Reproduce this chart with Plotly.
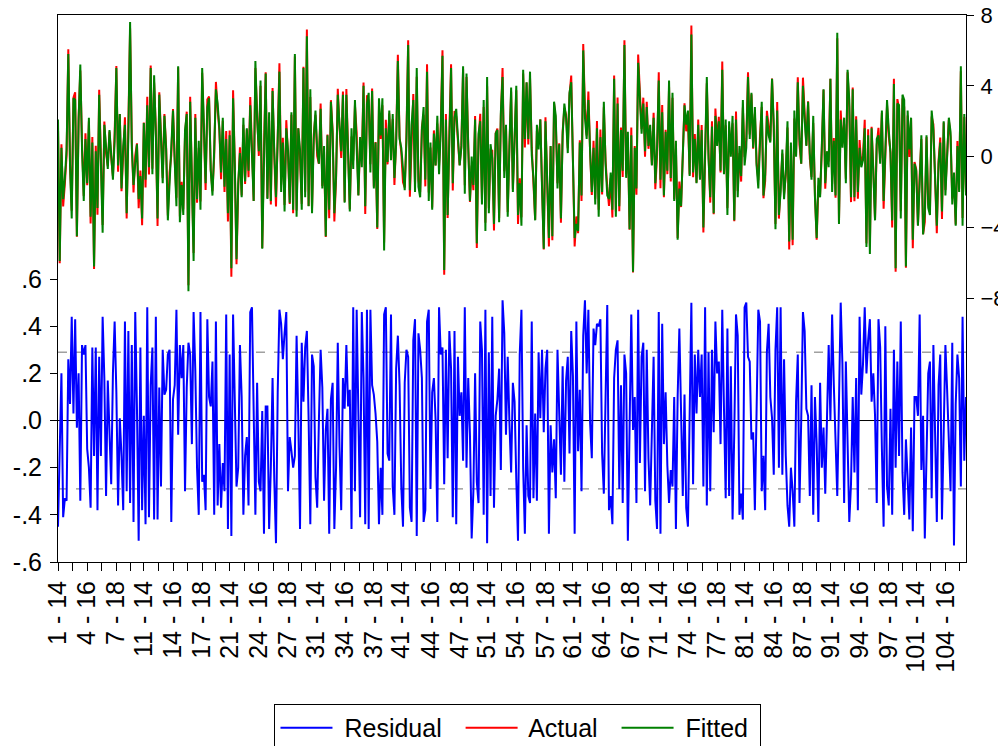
import plotly.graph_objects as go

# ---------------- data ----------------
cross_sections = list(range(1, 107))          # 106 cross-sections
periods = [14, 15, 16, 17, 18]                # 5 periods each

fitted = [
    2.1, -5.9, 0.5, -2.4, -1.2, 0.4, 5.8, -0.5, -3.5, 3.3,
    3.2, -4.5, 2.0, 5.2, 0.4, -2.5, 1.0, -1.5, 2.2, -3.4,
    0.8, -6.2, 0.3, -2.9, 3.5, -0.8, -4.3, 1.8, 0.5, -0.7,
    1.5, 0.2, -1.3, 0.9, 5.0, -0.5, 2.4, -1.8, 0.6, 1.8,
    -3.2, 1.2, 7.6, 0.5, -1.6, -0.4, 0.7, -2.4, -1.1, -3.5,
    1.9, -1.3, 2.9, -0.6, 5.0, -1.0, 4.6, 1.2, -3.5, 3.5,
    0.9, -1.5, 2.3, 0.4, -3.6, -1.2, 0.5, 2.6, -0.3, -2.8,
    5.1, -3.7, -1.6, -3.3, 1.5, 2.4, -7.6, 3.1, -1.2, -5.9,
    2.2, -2.4, 0.9, -3.0, 5.0, 1.8, -1.5, 2.8, 3.3, -0.8,
    -2.2, 0.4, 3.8, 3.0, 1.6, -0.9, 2.2, -1.7, 1.0, -3.2,
    1.2, -6.3, 3.3, -0.5, -5.8, -1.5, 0.2, -2.3, 2.2, -1.4,
    1.6, -0.8, 2.9, 0.1, -2.5, 5.4, 2.1, 0.3, 4.3, -5.2,
    1.0, 4.7, -2.4, 2.5, -2.5, 3.7, 0.3, -2.3, 1.0, 4.8,
    -2.0, 0.8, -3.1, 1.6,
    0.4, -2.6, 2.5, -3.0, 5.8, -3.4, 1.6, 0.4, -3.0, 5.0, -2.3, 6.8, -2.8, 3.8, -3.2,
    1.0, 2.6, 0.4, -0.4, 2.7, -1.8, 0.6, -4.5, 1.2, -3.0, 3.1, 1.3, -3.2, -1.1, 3.5,
    1.8, 0.3, 3.5, -2.6, 3.5, 0.3, -3.1, 1.6, -0.7, 3.2, 0.9, -2.2, 1.1, -0.6,
    4.0, -2.8, 3.0, 3.6, -0.9, 3.7, -1.8, 0.8, -4.0, 3.3, 1.2, 3.3, -5.3, 1.6, -0.3,
    2.6, -0.2, 2.4, -1.2, 0.7, 5.4, 1.0, 0.5, -1.0, -1.9, 0.9, 6.3, -1.9, 1.8, 3.2,
    -2.0, 5.0, -1.7, -2.3, 1.5, 2.8, -1.3, 4.8, -2.5, 0.8, -3.0, 1.3, -0.5, 2.3, -1.0,
    1.5, 5.7, -6.4, 2.1, -3.3, 1.0, 5.0, -1.5, 2.2, 2.7, 0.8, -0.5, 0.5, 5.1, -2.1,
    4.7, 0.5, -2.5, 0.0, -1.6, 2.1, -4.9, 1.3, 2.0, -2.7, 3.2, -4.2, 4.5, -3.2, 0.7,
    -0.1, -3.8, 1.3, 1.5, -3.7, 2.5, 4.5, -1.2, 1.8, -3.4, 0.6, 3.9, -2.0, 1.0,
    4.0, -3.3, -1.5, -3.9, 4.9, 1.0, 4.2, 1.0, 4.8, 0.1, -1.2, -3.6, 1.8, 0.4, 2.1,
    -1.8, -5.2, 2.0, -1.5, -4.6, 0.6, -4.5, 3.1, 2.3, -1.8, 0.7, -3.5, 1.2, 3.0, 2.2,
    0.2, 3.6, 4.2, -1.0, -4.6, -3.8, -4.2, 0.8, -2.2, 6.0, 2.2, 1.0, 3.2, 0.3, -2.0,
    0.5, -2.7, 1.6, -3.4, 1.1, -2.0, 3.1, -0.4, -2.2, -2.4,
    -0.9, -3.0, 4.4, -3.4, 3.0, -2.8, 1.5, -0.8, 6.3, -1.2,
    1.4, -4.1, 1.2, -6.5, 0.5, -1.8, 5.3, 3.6, 1.3, 3.0,
    0.3, 2.8, 0.6, 1.8, -0.5, 2.2, -1.5, 0.5, 4.3, -1.3,
    2.5, -2.2, 1.4, -0.8,
    4.3, -1.2, 3.6, -2.5, 0.9, -4.7, -1.8, -2.8, 0.5, 2.9,
    1.8, 2.6, -1.1, 6.9, -0.9, 1.0, -1.5, 1.8, -1.3, 1.5,
    -4.0, 0.3, 4.5, -0.1, -2.3, 1.7, -3.2, 2.3, 0.6, 2.0,
    -0.8, 4.9, -1.0, 2.1, -3.3, 2.0, 0.0, 2.3, -3.6, 2.1,
    -2.3, 0.6, -1.1, 3.2, -0.5,
    0.5, 4.5, 1.0, 3.6, 0.5, 2.8, -0.5, -1.8, 0.8, 3.1,
    -2.2, -1.0, 2.3, 1.2, 0.8, 4.4, 1.8, -4.1, 2.6, -3.3,
    -2.0, 0.4, -2.4, -0.9, 2.0, -4.8, 0.8, -4.7, 2.6, 0.0,
    4.2, 1.0, -0.4, 4.0, 2.1, 0.6, 3.1, 0.2, -1.3, 2.3,
    -2.3, -4.6, -1.2, -2.3,
    0.6, 3.8, -1.5, 0.3, -0.6, 4.4, -2.0, 0.9, -2.2, 7.0,
    -3.8, 2.1, 0.5, 2.2, -1.5, 4.9, 3.2, -2.3, 3.8, -2.3,
    2.1, -2.0, 0.5, -0.6, -0.2, 1.6, -5.1, 1.2, -5.5, 1.6,
    -0.9, -3.6, 1.0, 1.2, -0.4, 2.6, -2.5, 0.0, 3.2, 1.5,
    0.2, -3.6, 4.1, -6.3, 3.0,
    2.9, -3.5, 3.5, 3.2, -6.2, 2.6, 0.4, 2.2, -4.7, -0.4,
    -0.8, -3.9, -1.5, 1.2, -4.4, -3.2, 1.2, -2.9, -3.3, 2.6,
    1.5, -1.3, -3.9, -0.4, 0.8, -3.1, 2.0, -2.2, -0.1, 2.2,
    1.4, -2.7, -0.9, -3.9, 0.6, -2.0, 5.1, -3.9, 2.4, -2.2,
]

residual = [
    -0.45, -0.12, 0.20, -0.41, -0.33, -0.34, 0.26, 0.07, 0.44, 0.03,
    0.43, -0.03, 0.20, -0.34, 0.32, 0.28, 0.32, -0.12, -0.20, -0.37,
    0.31, -0.15, 0.31, -0.38, 0.27, -0.15, 0.44, 0.18, -0.32, 0.17,
    -0.09, -0.27, 0.20, 0.42, 0.12, -0.36, 0.01, -0.15, -0.38, 0.42,
    -0.30, 0.38, -0.35, 0.32, -0.43, 0.46, 0.05, -0.51, 0.31, -0.38,
    0.02, -0.44, 0.48, -0.41, 0.15, 0.31, -0.42, 0.44, -0.42, 0.14,
    -0.28, 0.30, 0.11, 0.13, 0.28, 0.30, -0.43, 0.09, 0.15, 0.47,
    -0.06, 0.32, 0.18, 0.32, -0.30, 0.14, 0.33, 0.28, -0.10, 0.46,
    0.21, -0.20, -0.40, 0.46, -0.26, -0.23, -0.38, 0.43, 0.10, 0.06,
    0.25, -0.40, 0.42, -0.36, -0.10, -0.37, -0.18, -0.30, 0.45, -0.46,
    0.28, -0.49, 0.45, 0.15, -0.28, -0.20, 0.32, 0.10, -0.40, -0.15,
    -0.07, -0.36, 0.46, 0.48, 0.00, -0.40, 0.16, -0.26, -0.30, 0.04,
    -0.48, 0.06, 0.06, -0.46, -0.20, 0.18, -0.25, -0.52, 0.12, 0.47,
    0.41, 0.26, 0.37, 0.46, -0.30, -0.07, -0.13, -0.20, -0.15, 0.36,
    0.00, -0.46, 0.33, 0.08, 0.31, 0.38, 0.01, -0.44, 0.28, 0.23,
    -0.24, -0.37, 0.00, 0.30, 0.14, -0.34, -0.04, 0.05, -0.48, 0.09,
    0.16, -0.46, -0.20, 0.33, -0.11, -0.38, 0.18, 0.05, 0.32, 0.06,
    0.13, -0.46, 0.48, -0.30, 0.47, 0.02, -0.41, 0.46, 0.18, -0.44,
    0.47, -0.46, 0.47, 0.15, 0.11, 0.03, -0.09, -0.44, -0.20, -0.40,
    0.45, 0.48, -0.14, -0.17, 0.45, -0.28, -0.40, 0.22, 0.36, 0.15,
    -0.28, -0.45, 0.16, 0.30, 0.27, -0.37, -0.43, 0.34, 0.43, -0.49,
    0.37, 0.30, 0.18, -0.43, -0.38, 0.42, 0.47, -0.29, 0.12, 0.18,
    0.00, -0.43, 0.48, 0.28, 0.31, -0.27, 0.30, -0.16, 0.38, 0.22,
    -0.41, 0.38, -0.44, 0.27, 0.02, 0.12, -0.17, 0.48, -0.20, 0.18,
    -0.06, -0.50, -0.30, 0.20, -0.26, -0.35, 0.42, 0.30, -0.40, 0.47,
    -0.52, 0.29, -0.32, 0.44, -0.37, 0.02, 0.09, 0.22, -0.21, 0.51,
    0.37, -0.06, 0.27, -0.01, -0.22, 0.16, 0.08, -0.25, -0.51, 0.28,
    0.47, -0.20, -0.48, -0.02, -0.32, -0.35, 0.42, -0.33, 0.03, -0.34,
    0.29, 0.01, 0.30, -0.05, 0.22, 0.30, -0.48, -0.02, -0.22, -0.08,
    -0.33, 0.30, 0.05, -0.23, 0.23, -0.26, 0.17, 0.27, -0.14, 0.38,
    0.19, -0.48, 0.42, -0.13, 0.13, -0.30, 0.36, 0.51, 0.20, 0.47,
    -0.01, -0.16, 0.39, 0.32, 0.41, 0.40, 0.43, -0.14, -0.31, 0.18,
    0.49, -0.38, -0.32, -0.44, 0.18, 0.30, 0.34, -0.29, 0.15, -0.35,
    0.28, 0.20, -0.51, -0.03, 0.45, -0.04, 0.10, -0.35, 0.47, -0.18,
    0.27, 0.33, -0.30, 0.30, -0.16, -0.36, 0.04, 0.27, -0.34, -0.46,
    0.46, -0.48, 0.41, -0.10, 0.12, -0.19, -0.35, -0.21, -0.28, 0.10,
    -0.46, 0.10, 0.39, -0.05, -0.32, 0.11, -0.37, -0.45, 0.09, 0.50,
    -0.27, 0.28, 0.03, 0.30, 0.10, 0.28, -0.28, 0.48, -0.36, 0.29,
    -0.30, 0.30, -0.05, 0.42, 0.20, 0.25, -0.10, 0.47, 0.05, -0.33,
    0.39, -0.32, 0.23, -0.42, -0.05, 0.45, 0.36, -0.40, -0.31, -0.42,
    0.48, 0.50, 0.27, 0.25, -0.08, -0.05, -0.38, 0.15, 0.47, 0.42,
    -0.30, -0.15, -0.38, 0.29, 0.41, 0.10, 0.01, -0.23, 0.30, 0.48,
    -0.20, 0.48, -0.23, 0.26, -0.15, -0.36, -0.45, -0.20, -0.30, -0.45,
    0.08, 0.28, -0.35, 0.00, 0.46, 0.38, 0.05, 0.02, -0.32, 0.15,
    -0.40, 0.10, -0.10, -0.43, 0.16, -0.20, -0.03, -0.31, -0.02, 0.32,
    0.00, 0.45, 0.15, -0.12, -0.32, 0.08, 0.50, 0.24, -0.35, 0.25,
    -0.13, -0.43, -0.27, 0.10, -0.22, 0.18, -0.38, 0.44, 0.11, 0.24,
    0.48, 0.20, 0.34, 0.43, 0.08, 0.20, 0.02, -0.35, 0.43, 0.31,
    -0.12, -0.45, 0.40, -0.28, -0.36, 0.05, -0.40, 0.30, -0.20, 0.25,
    -0.15, 0.42, -0.22, -0.40, -0.08, -0.28, -0.42, -0.03, -0.47, 0.10,
    0.10, 0.02, 0.45, -0.21, 0.02, -0.50, -0.10, 0.20, 0.25, -0.33,
    0.32, -0.12, -0.43, 0.15, 0.28, -0.42, -0.07, 0.32, 0.13, -0.14,
    -0.30, 0.33, -0.53, 0.07, 0.28, 0.18, -0.28, 0.44, -0.17, 0.10,
]

# Actual = Fitted + Residual (definition of the residual)
actual = [f + r for f, r in zip(fitted, residual)]

tick_labels = [
    "1 - 14", "4 - 16", "7 - 18", "11 - 14", "14 - 16", "17 - 18",
    "21 - 14", "24 - 16", "27 - 18", "31 - 14", "34 - 16", "37 - 18",
    "41 - 14", "44 - 16", "47 - 18", "51 - 14", "54 - 16", "57 - 18",
    "61 - 14", "64 - 16", "67 - 18", "71 - 14", "74 - 16", "77 - 18",
    "81 - 14", "84 - 16", "87 - 18", "91 - 14", "94 - 16", "97 - 18",
    "101 - 14", "104 - 16",
]

left_ticks = [-0.6, -0.4, -0.2, 0.0, 0.2, 0.4, 0.6]
left_labels = ["-.6", "-.4", "-.2", ".0", ".2", ".4", ".6"]
right_ticks = [-8, -4, 0, 4, 8]
resid_se = 0.29   # +/- 1 S.E. band of the residuals

# ---------------- build ----------------
n = len(fitted)
assert n == len(residual) == len(cross_sections) * len(periods), (n, len(residual))
x = list(range(n))


def obs_index(label):
    cs, p = [int(s) for s in label.split(" - ")]
    return (cs - 1) * len(periods) + periods.index(p)


label_pos = [obs_index(t) for t in tick_labels]
tickvals, ticktext = [], []
for i, pos in enumerate(label_pos):
    tickvals.append(pos)
    ticktext.append(tick_labels[i])
    nxt = label_pos[i + 1] if i + 1 < len(label_pos) else pos + (pos - label_pos[i - 1])
    mid = (pos + nxt) / 2
    if mid <= n - 1:
        tickvals.append(mid)
        ticktext.append("")

FONT = "Liberation Sans, Arial, sans-serif"
FS = 25

fig = go.Figure()
fig.add_trace(go.Scatter(x=x, y=residual, name=" Residual  ", mode="lines",
                         line=dict(color="#0000FF", width=2), yaxis="y"))
fig.add_trace(go.Scatter(x=x, y=actual, name=" Actual  ", mode="lines",
                         line=dict(color="#FF0000", width=2), yaxis="y2"))
fig.add_trace(go.Scatter(x=x, y=fitted, name=" Fitted ", mode="lines",
                         line=dict(color="#008000", width=2), yaxis="y2"))

shapes = [
    dict(type="line", xref="paper", x0=0, x1=1, yref="y", y0=0, y1=0,
         line=dict(color="#000000", width=1), layer="below"),
    dict(type="line", xref="paper", x0=0, x1=1, yref="y", y0=resid_se, y1=resid_se,
         line=dict(color="#707070", width=1, dash="dash"), layer="below"),
    dict(type="line", xref="paper", x0=0, x1=1, yref="y", y0=-resid_se, y1=-resid_se,
         line=dict(color="#707070", width=1, dash="dash"), layer="below"),
]

# the page puts the figure 8 px in from the top-left corner
W, H = 998, 738

fig.update_layout(
    template="none",
    width=W, height=H,
    margin=dict(l=50, r=40, t=7, b=184, autoexpand=False),
    paper_bgcolor="white", plot_bgcolor="white",
    font=dict(family=FONT, size=FS, color="black"),
    showlegend=True,
    legend=dict(orientation="h", xref="container", yref="container",
                x=0.511, xanchor="center", y=0.0244, yanchor="middle",
                bordercolor="black", borderwidth=1, itemwidth=52,
                bgcolor="white", font=dict(size=FS), traceorder="normal"),
    xaxis=dict(range=[0, n - 1], tickmode="array", tickvals=tickvals, ticktext=ticktext,
               tickangle=-90, ticks="outside", ticklen=8, tickcolor="black",
               showline=True, linecolor="black", linewidth=1, mirror=True,
               showgrid=False, zeroline=False, automargin=False, tickfont=dict(size=FS)),
    yaxis=dict(range=[-0.6, 1.72], tickmode="array", tickvals=left_ticks, ticktext=left_labels,
               ticks="outside", ticklen=7, tickcolor="black", ticklabelstandoff=3,
               showline=True, linecolor="black", linewidth=1, mirror=True,
               showgrid=False, zeroline=False, automargin=False, tickfont=dict(size=FS)),
    yaxis2=dict(range=[-22.9, 8], overlaying="y", side="right", tickmode="array",
                tickvals=right_ticks, ticks="outside", ticklen=7, tickcolor="black",
                ticklabelstandoff=2, ticklabeloverflow="allow",
                showline=True, linecolor="black", linewidth=1,
                showgrid=False, zeroline=False, automargin=False, tickfont=dict(size=22)),
    shapes=shapes,
)

fig.write_html("out.html")
